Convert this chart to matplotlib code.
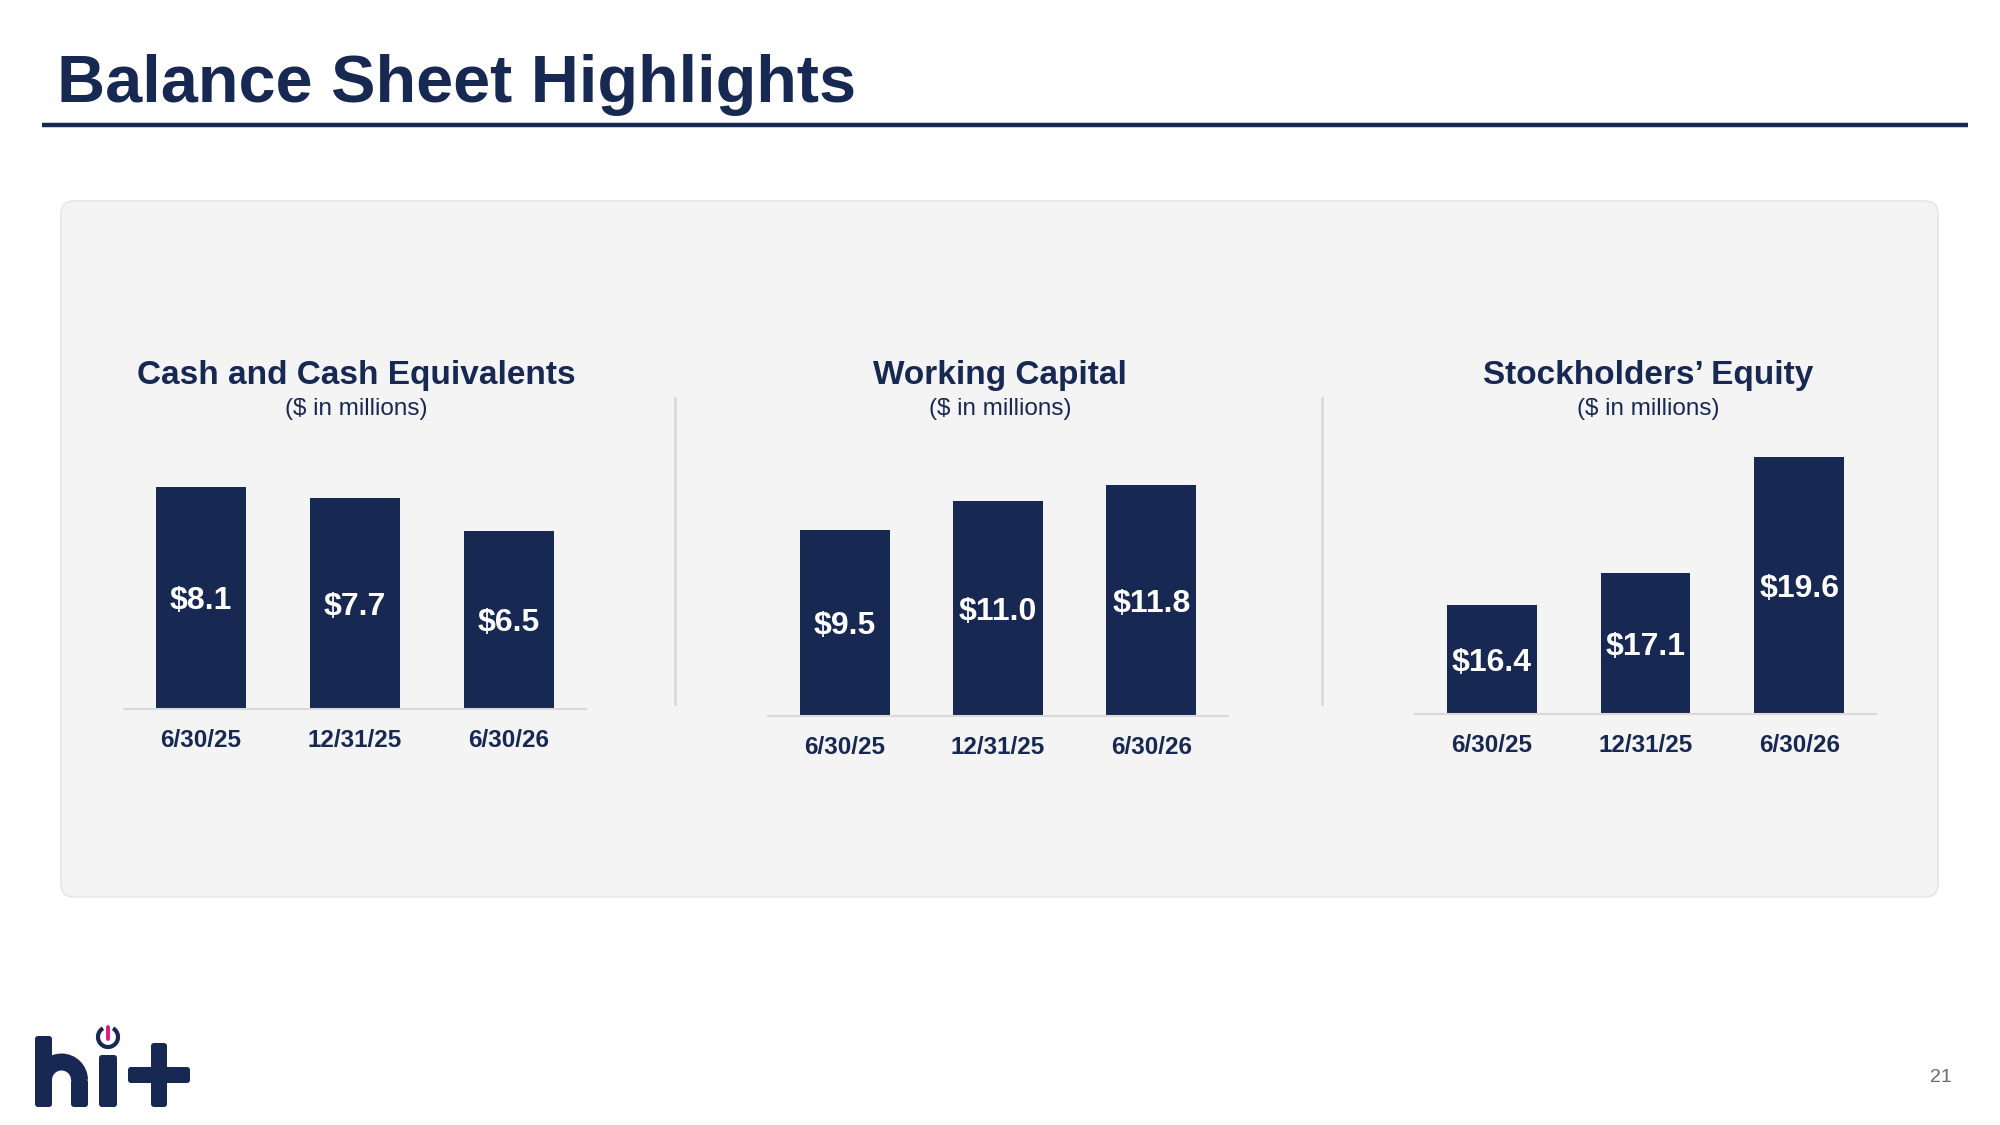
import matplotlib
matplotlib.use("Agg")
import matplotlib.pyplot as plt
from matplotlib.patches import FancyBboxPatch, Arc

plt.rcParams['font.family'] = ['Liberation Sans', 'DejaVu Sans']

# ---- data ----
periods = ["6/30/25", "12/31/25", "6/30/26"]
panel_titles = ["Cash and Cash Equivalents", "Working Capital", "Stockholders\u2019 Equity"]
panel_subtitle = "($ in millions)"
cash = [8.1, 7.7, 6.5]
working_capital = [9.5, 11.0, 11.8]
equity = [16.4, 17.1, 19.6]
series = [cash, working_capital, equity]
page_title = "Balance Sheet Highlights"
page_number = "21"

NAVY = "#172852"
W, H = 2000, 1125
fig = plt.figure(figsize=(20, 11.25), dpi=100)
fig.patch.set_facecolor("white")

bg = fig.add_axes([0, 0, 1, 1], zorder=0)
bg.set_xlim(0, W)
bg.set_ylim(H, 0)
bg.axis("off")

# header
bg.text(57, 102, page_title, fontsize=48, fontweight="bold", color=NAVY,
        ha="left", va="baseline")
bg.plot([42, 1968], [125, 125], color=NAVY, lw=3.2, solid_capstyle="butt")

# panel background
bg.add_patch(FancyBboxPatch((61, 201), 1877, 696,
                            boxstyle="round,pad=0,rounding_size=13",
                            facecolor="#f4f4f4", edgecolor="#e6e6e6", lw=1.2))
# separators
for sx in (675, 1322):
    bg.plot([sx, sx], [398, 704], color="#d9d9d9", lw=2)

# panel layout (pixels): x0, x1, baseline, px-per-unit, y-min
layout = [
    (124, 586, 709, 27.4, 0.0),
    (768, 1228, 716, 19.57, 0.0),
    (1415, 1876, 714, 46.25, 14.05),
]
title_cx = [356, 1000, 1648]
AX_TOP = 400

for vals, title, cx, (x0, x1, base, scale, ymin) in zip(series, panel_titles, title_cx, layout):
    ax = fig.add_axes([x0 / W, 1 - base / H, (x1 - x0) / W, (base - AX_TOP) / H], zorder=2)
    ax.patch.set_alpha(0)
    xs = list(range(len(periods)))
    ax.bar(xs, vals, width=0.585, color=NAVY)
    ax.set_xlim(-0.5, len(periods) - 0.5)
    ax.set_ylim(ymin, ymin + (base - AX_TOP) / scale)
    for s in ("top", "right", "left"):
        ax.spines[s].set_visible(False)
    ax.spines["bottom"].set_color("#d9d9d9")
    ax.spines["bottom"].set_linewidth(1.5)
    ax.set_yticks([])
    ax.set_xticks([])
    for i, (p, v) in enumerate(zip(periods, vals)):
        ax.annotate(p, xy=(i, 0), xycoords=("data", "axes fraction"),
                    xytext=(0, -27.4), textcoords="offset points",
                    ha="center", va="baseline", fontsize=17.5,
                    fontweight="bold", color=NAVY)
        ymid = (ymin + v) / 2
        ax.annotate(f"${v:.1f}", xy=(i, ymid), xycoords="data",
                    xytext=(0, -8.2), textcoords="offset points",
                    ha="center", va="baseline", fontsize=23,
                    fontweight="bold", color="white")
    bg.text(cx, 384, title, fontsize=24, fontweight="bold", color=NAVY,
            ha="center", va="baseline")
    bg.text(cx, 415, panel_subtitle, fontsize=17.5, color=NAVY,
            ha="center", va="baseline")

# logo "hi+"
LOGO = "#172852"
def rbox(x, y, w, h):
    bg.add_patch(FancyBboxPatch((x, y), w, h, boxstyle="round,pad=0,rounding_size=3",
                                facecolor=LOGO, edgecolor="none"))
rbox(35, 1036, 17, 71)          # h stem
rbox(71, 1079, 17, 28)          # h right leg
bg.add_patch(Arc((61.5, 1080), 36, 36, theta1=180, theta2=360, lw=12.2, color=LOGO))
rbox(99, 1055, 18, 52)          # i stem
bg.add_patch(Arc((108, 1037), 20, 20, theta1=300, theta2=600, lw=3.0, color=LOGO))
bg.plot([108, 108], [1027, 1039], color="#e0197d", lw=2.8, solid_capstyle="round")
rbox(128, 1067, 62, 16)         # plus horizontal
rbox(151, 1043, 16, 64)         # plus vertical

bg.text(1952, 1082, page_number, fontsize=14, color="#6b6b6b", ha="right", va="baseline")

fig.savefig("out.png", dpi=100)
